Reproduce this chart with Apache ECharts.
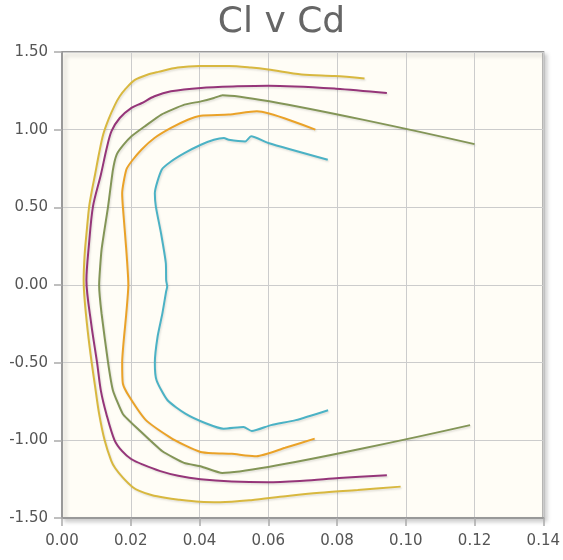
<!DOCTYPE html>
<html>
<head>
<meta charset="utf-8">
<script src="https://cdn.jsdelivr.net/npm/echarts@6/dist/echarts.min.js"></script>
<style>
html, body { margin: 0; padding: 0; background: #fff; }
#chart { width: 563px; height: 560px; }
</style>
</head>
<body>
<div id="chart"></div>
<script>
// [Cd, Cl] pairs, from the negative end round to the positive end
const yellowPolar = [
  [0.0985,-1.298],[0.086,-1.32],[0.075,-1.338],[0.065,-1.36],[0.055,-1.385],[0.046,-1.398],
  [0.040,-1.395],[0.034,-1.382],[0.030,-1.37],[0.026,-1.352],[0.0225,-1.325],
  [0.0205,-1.30],[0.0177,-1.24],[0.0155,-1.18],[0.0143,-1.13],[0.0124,-1.0],[0.0108,-0.83],
  [0.0096,-0.65],[0.0086,-0.495],[0.0075,-0.3],[0.0066,-0.1],[0.0063,0.03],[0.0066,0.2],
  [0.0072,0.35],[0.0079,0.505],[0.0088,0.62],[0.0096,0.71],[0.0108,0.85],[0.012,0.97],
  [0.0135,1.065],[0.0154,1.16],[0.0168,1.215],[0.0183,1.258],[0.0212,1.32],[0.025,1.355],
  [0.028,1.372],[0.0337,1.40],[0.040,1.41],[0.0485,1.41],[0.055,1.40],[0.060,1.387],
  [0.0697,1.355],[0.0793,1.345],[0.088,1.33]
];
const purplePolar = [
  [0.0945,-1.224],[0.0806,-1.243],[0.0702,-1.26],[0.0598,-1.27],[0.0494,-1.265],[0.0403,-1.25],
  [0.0338,-1.228],[0.0286,-1.198],[0.0234,-1.155],[0.0201,-1.12],[0.0175,-1.07],[0.0153,-1.0],
  [0.0129,-0.83],[0.0113,-0.68],[0.0102,-0.5],[0.0085,-0.25],[0.0071,0.03],[0.0078,0.25],
  [0.009,0.505],[0.0113,0.71],[0.013,0.88],[0.0144,0.99],[0.0168,1.075],[0.0202,1.14],
  [0.0231,1.17],[0.0269,1.215],[0.0317,1.247],[0.0404,1.269],[0.051,1.279],[0.060,1.283],
  [0.0797,1.264],[0.0945,1.236]
];
const greenPolar = [
  [0.1187,-0.902],[0.0466,-1.21],[0.0405,-1.168],[0.0355,-1.145],[0.0292,-1.07],[0.0225,-0.935],
  [0.0177,-0.83],[0.0148,-0.677],[0.0134,-0.5],[0.0115,-0.183],[0.0108,0.0],[0.0115,0.226],
  [0.0134,0.505],[0.0148,0.74],[0.0159,0.84],[0.0178,0.90],[0.0202,0.957],[0.024,1.02],
  [0.0289,1.097],[0.0356,1.161],[0.0404,1.182],[0.0442,1.204],[0.0467,1.222],[0.12,0.907]
];
const orangePolar = [
  [0.0735,-0.989],[0.0649,-1.048],[0.0566,-1.102],[0.0533,-1.097],[0.0494,-1.087],[0.0441,-1.083],
  [0.0403,-1.075],[0.0358,-1.033],[0.0312,-0.978],[0.0244,-0.87],[0.0196,-0.72],[0.0177,-0.634],
  [0.0175,-0.5],[0.0187,-0.183],[0.0193,0.0],[0.0187,0.226],[0.0177,0.505],[0.0175,0.59],
  [0.0187,0.742],[0.0202,0.795],[0.0231,0.871],[0.0269,0.946],[0.0317,1.011],[0.0366,1.064],
  [0.0404,1.09],[0.0485,1.097],[0.0567,1.118],[0.0737,1.00]
];
const cyanPolar = [
  [0.0774,-0.806],[0.068,-0.87],[0.0608,-0.902],[0.0552,-0.94],[0.0528,-0.914],[0.047,-0.925],
  [0.0418,-0.89],[0.036,-0.83],[0.0307,-0.742],[0.0275,-0.613],[0.027,-0.5],[0.0278,-0.333],
  [0.0292,-0.183],[0.0303,-0.04],[0.0306,-0.01],[0.0303,0.03],[0.0302,0.14],[0.0288,0.333],
  [0.0273,0.505],[0.027,0.59],[0.029,0.742],[0.0317,0.795],[0.0356,0.849],[0.0404,0.903],
  [0.0442,0.935],[0.0471,0.946],[0.0485,0.935],[0.0533,0.924],[0.055,0.957],[0.060,0.914],
  [0.0773,0.806]
];

const seriesList = [
  { name: 'yellow', data: yellowPolar, color: '#d8b83f', smooth: 0.3 },
  { name: 'purple', data: purplePolar, color: '#953579', smooth: 0.3 },
  { name: 'green', data: greenPolar, color: '#839557', smooth: 0.15 },
  { name: 'orange', data: orangePolar, color: '#EAA228', smooth: 0.2 },
  { name: 'cyan', data: cyanPolar, color: '#4bb2c5', smooth: 0.2 }
];

const font = 'DejaVu Sans';
const chart = echarts.init(document.getElementById('chart'));

chart.setOption({
  animation: false,
  title: {
    text: 'Cl v Cd',
    left: 'center',
    top: 0,
    textStyle: { fontFamily: font, fontSize: 36, fontWeight: 'normal', color: '#666' }
  },
  grid: {
    left: 62, right: 17, top: 52, bottom: 42,
    show: true,
    backgroundColor: '#fffdf6',
    borderColor: '#999',
    borderWidth: 2,
    shadowColor: 'rgba(0,0,0,0.18)',
    shadowBlur: 4,
    shadowOffsetX: 3,
    shadowOffsetY: 3
  },
  xAxis: {
    type: 'value',
    min: 0, max: 0.14, interval: 0.02,
    axisLine: { show: true, onZero: false, lineStyle: { color: '#999', width: 2 } },
    axisTick: { show: true, length: 8, lineStyle: { color: '#aaa', width: 1.5 } },
    splitLine: { show: true, lineStyle: { color: '#ccc', width: 1 } },
    axisLabel: {
      margin: 16, fontFamily: font, fontSize: 15, color: '#555',
      formatter: v => v.toFixed(2)
    }
  },
  yAxis: {
    type: 'value',
    min: -1.5, max: 1.5, interval: 0.5,
    axisLine: { show: true, onZero: false, lineStyle: { color: '#999', width: 2 } },
    axisTick: { show: true, length: 8, lineStyle: { color: '#aaa', width: 1.5 } },
    splitLine: { show: true, lineStyle: { color: '#ccc', width: 1 } },
    axisLabel: {
      margin: 14, fontFamily: font, fontSize: 15, color: '#555',
      formatter: v => v.toFixed(2)
    }
  },
  series: seriesList.map(s => ({
    name: s.name,
    type: 'line',
    data: s.data,
    showSymbol: false,
    symbol: 'none',
    smooth: s.smooth,
    lineStyle: {
      color: s.color,
      width: 2,
      shadowColor: 'rgba(0,0,0,0.12)',
      shadowBlur: 2,
      shadowOffsetX: 1,
      shadowOffsetY: 1.5
    },
    itemStyle: { color: s.color }
  }))
});
</script>
</body>
</html>
